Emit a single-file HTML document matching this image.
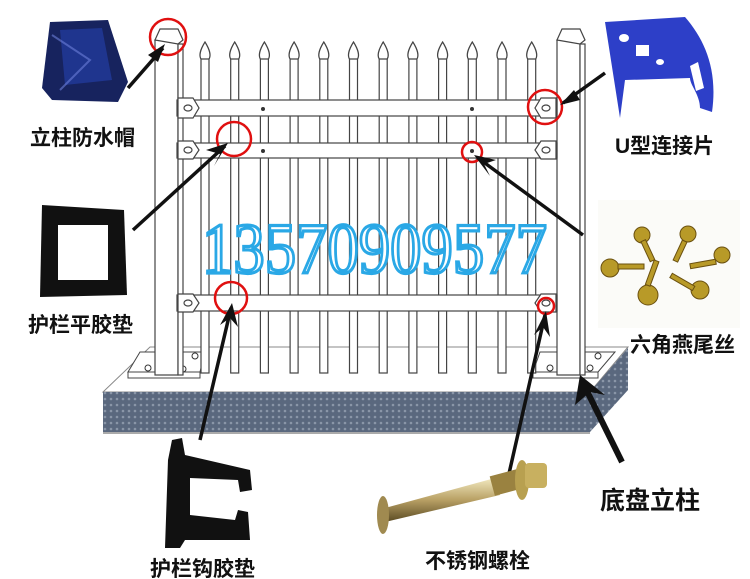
<!DOCTYPE html>
<html><head><meta charset="utf-8"><style>
html,body{margin:0;padding:0;background:#fff;width:750px;height:579px;overflow:hidden}
svg{display:block}
.lb{font-family:"Liberation Sans","Noto Sans CJK SC",sans-serif;font-size:21px;font-weight:bold;fill:#111}
</style></head><body>
<svg width="750" height="579" viewBox="0 0 750 579" xmlns="http://www.w3.org/2000/svg">
<defs>
<pattern id="dots" width="6" height="6" patternUnits="userSpaceOnUse">
<rect width="6" height="6" fill="#5a687e"/><circle cx="3" cy="3" r="1.3" fill="#8a96a8"/>
</pattern>
<linearGradient id="bolt" x1="0" y1="0" x2="0" y2="1"><stop offset="0" stop-color="#f2e9c0"/><stop offset="0.5" stop-color="#b8a064"/><stop offset="1" stop-color="#5a4a22"/></linearGradient>
</defs>
<polygon points="150,347 628,347 590,392 103,392" fill="#fff" stroke="#888" stroke-width="1"/>
<rect x="103" y="392" width="487" height="40" fill="url(#dots)"/>
<polygon points="590,392 628,348 628,390 590,432" fill="url(#dots)"/>
<line x1="103" y1="433" x2="590" y2="433" stroke="#aaa" stroke-width="2"/>
<polygon points="140,352 205,352 200,372 128,372" fill="#fff" stroke="#444"/>
<polygon points="128,372 200,372 200,378 128,378" fill="#fff" stroke="#444"/>
<polygon points="540,352 615,352 598,372 533,372" fill="#fff" stroke="#444"/>
<polygon points="533,372 598,372 598,378 533,378" fill="#fff" stroke="#444"/>
<g fill="#fff" stroke="#333"><circle cx="148" cy="368" r="3"/><circle cx="183" cy="369" r="3"/><circle cx="195" cy="356" r="3"/><circle cx="550" cy="368" r="3"/><circle cx="590" cy="368" r="3"/><circle cx="598" cy="356" r="3"/></g>
<g fill="#fff" stroke="#444" stroke-width="1.2">
<rect x="201" y="58" width="8" height="315"/><path d="M205,42 C200,50 199,56 201,59 L209,59 C211,56 210,50 205,42Z"/>
<rect x="230.7" y="58" width="8" height="315"/><path d="M234.7,42 C229.7,50 228.7,56 230.7,59 L238.7,59 C240.7,56 239.7,50 234.7,42Z"/>
<rect x="260.4" y="58" width="8" height="315"/><path d="M264.4,42 C259.4,50 258.4,56 260.4,59 L268.4,59 C270.4,56 269.4,50 264.4,42Z"/>
<rect x="290.1" y="58" width="8" height="315"/><path d="M294.1,42 C289.1,50 288.1,56 290.1,59 L298.1,59 C300.1,56 299.1,50 294.1,42Z"/>
<rect x="319.8" y="58" width="8" height="315"/><path d="M323.8,42 C318.8,50 317.8,56 319.8,59 L327.8,59 C329.8,56 328.8,50 323.8,42Z"/>
<rect x="349.5" y="58" width="8" height="315"/><path d="M353.5,42 C348.5,50 347.5,56 349.5,59 L357.5,59 C359.5,56 358.5,50 353.5,42Z"/>
<rect x="379.2" y="58" width="8" height="315"/><path d="M383.2,42 C378.2,50 377.2,56 379.2,59 L387.2,59 C389.2,56 388.2,50 383.2,42Z"/>
<rect x="408.9" y="58" width="8" height="315"/><path d="M412.9,42 C407.9,50 406.9,56 408.9,59 L416.9,59 C418.9,56 417.9,50 412.9,42Z"/>
<rect x="438.6" y="58" width="8" height="315"/><path d="M442.6,42 C437.6,50 436.6,56 438.6,59 L446.6,59 C448.6,56 447.6,50 442.6,42Z"/>
<rect x="468.3" y="58" width="8" height="315"/><path d="M472.3,42 C467.3,50 466.3,56 468.3,59 L476.3,59 C478.3,56 477.3,50 472.3,42Z"/>
<rect x="498" y="58" width="8" height="315"/><path d="M502,42 C497,50 496,56 498,59 L506,59 C508,56 507,50 502,42Z"/>
<rect x="527.7" y="58" width="8" height="315"/><path d="M531.7,42 C526.7,50 525.7,56 527.7,59 L535.7,59 C537.7,56 536.7,50 531.7,42Z"/>
</g>
<g fill="#fff" stroke="#444" stroke-width="1.2">
<rect x="155" y="40" width="23" height="335"/><rect x="178" y="44" width="5" height="331"/>
<polygon points="155,40 160,29 178,29 183,40 178,44"/>
<rect x="557" y="40" width="23" height="335"/><rect x="580" y="44" width="5" height="331"/>
<polygon points="557,40 562,29 580,29 585,40 580,44"/>
</g>
<g fill="#fff" stroke="#444" stroke-width="1.2">
<rect x="177" y="100" width="380" height="16"/>
<rect x="177" y="143" width="380" height="15"/>
<rect x="177" y="295" width="380" height="16"/>
<path d="M178,98 h15 l6,10 l-6,10 h-15z"/><path d="M556,98 h-15 l-6,10 l6,10 h15z"/>
<path d="M178,141 h15 l6,9 l-6,9 h-15z"/><path d="M556,141 h-15 l-6,9 l6,9 h15z"/>
<path d="M178,294 h15 l6,9 l-6,9 h-15z"/><path d="M556,294 h-15 l-6,9 l6,9 h15z"/>
<ellipse cx="188" cy="108" rx="4" ry="3"/><ellipse cx="546" cy="108" rx="4" ry="3"/>
<ellipse cx="188" cy="150" rx="4" ry="3"/><ellipse cx="546" cy="150" rx="4" ry="3"/>
<ellipse cx="188" cy="303" rx="4" ry="3"/><ellipse cx="546" cy="303" rx="4" ry="3"/>
</g>
<g fill="#333"><circle cx="263" cy="109" r="2"/><circle cx="472" cy="109" r="2"/><circle cx="263" cy="151" r="2"/><circle cx="472" cy="151" r="2"/></g>
<text x="202" y="273" textLength="345" lengthAdjust="spacingAndGlyphs" font-family="Liberation Serif,serif" font-size="72" fill="#fff" stroke="#2aa8e6" stroke-width="3.2">13570909577</text>
<g fill="none" stroke="#e01010" stroke-width="2.5">
<circle cx="168" cy="37" r="18"/><circle cx="545" cy="107" r="17"/><circle cx="234" cy="139" r="17"/>
<circle cx="472" cy="152" r="10"/><circle cx="231" cy="298" r="16"/><circle cx="546" cy="306" r="8"/>
</g>
<g stroke="#111" stroke-width="3.5" fill="none">
<line x1="128" y1="88" x2="163" y2="48"/>
<line x1="605" y1="73" x2="563" y2="103"/>
<line x1="133" y1="230" x2="225" y2="146"/>
<line x1="583" y1="235" x2="478" y2="158"/>
<line x1="200" y1="440" x2="231" y2="308"/>
<line x1="508" y1="478" x2="545" y2="315"/>
<line x1="622" y1="462" x2="583" y2="383" stroke-width="6"/>
</g>
<g fill="#111">
<polygon points="165,44 148,55 158,62"/>
<polygon points="560,105 574,90 580,100"/>
<polygon points="228,143 206,150 220,154 214,166"/>
<polygon points="474,155 496,160 484,164 490,176"/>
<polygon points="232,303 220,325 230,318 238,327"/>
<polygon points="546,311 534,335 543,327 550,337"/>
<polygon points="580,375 575,405 590,392 605,395"/>
</g>
<path d="M50,22 L108,20 L128,82 L118,102 L52,100 L42,88 Z" fill="#17235e"/>
<path d="M60,30 L102,28 L112,80 L65,85 Z" fill="#223a9a" opacity="0.8"/>
<path d="M52,35 L90,60 L60,90" stroke="#6c7fd8" stroke-width="2" fill="none" opacity="0.6"/>
<path d="M42,205 L124,210 L127,295 L40,297 Z" fill="#111"/>
<rect x="58" y="225" width="50" height="55" fill="#fff"/>
<path d="M605,22 L685,17 C705,40 718,70 712,112 L700,108 C700,95 690,85 690,78 L625,80 L620,118 Z" fill="#2d3fc8"/>
<ellipse cx="624" cy="38" rx="5" ry="4" fill="#fff"/><rect x="636" y="45" width="13" height="11" fill="#fff"/><ellipse cx="660" cy="62" rx="4" ry="3" fill="#fff"/>
<polygon points="690,66 698,62 704,88 696,91" fill="#fff"/>
<rect x="598" y="200" width="142" height="128" fill="#fbfbf8"/>
<g fill="#b89a28" stroke="#6a5010" stroke-width="1">
<circle cx="642" cy="235" r="8"/><rect x="645" y="240" width="5" height="22" transform="rotate(-25 647 250)"/>
<circle cx="688" cy="234" r="8"/><rect x="678" y="240" width="5" height="22" transform="rotate(25 680 250)"/>
<circle cx="722" cy="255" r="8"/><rect x="690" y="262" width="26" height="5" transform="rotate(-10 700 264)"/>
<circle cx="610" cy="268" r="9"/><rect x="618" y="264" width="26" height="5"/>
<circle cx="648" cy="295" r="10"/><rect x="650" y="260" width="5" height="26" transform="rotate(20 652 272)"/>
<circle cx="700" cy="290" r="9"/><rect x="670" y="278" width="26" height="5" transform="rotate(30 680 280)"/>
</g>
<path d="M172,440 L182,438 L185,455 L250,470 L252,490 L240,492 L238,480 L190,478 L190,515 L235,520 L238,510 L248,512 L250,540 L185,540 L180,548 L165,548 L168,460 Z" fill="#111"/>
<polygon points="385,508 495,478 500,495 385,522" fill="url(#bolt)"/>
<ellipse cx="383" cy="515" rx="6" ry="19" fill="#a08a50"/>
<rect x="492" y="474" width="30" height="20" fill="#9a8240" transform="rotate(-15 500 484)"/>
<ellipse cx="522" cy="480" rx="7" ry="20" fill="#b8a050"/>
<rect x="525" y="463" width="22" height="25" rx="4" fill="#c8b060"/>
<text class="lb" x="30" y="145">立柱防水帽</text>
<text class="lb" x="615" y="153">U型连接片</text>
<text class="lb" x="28" y="332">护栏平胶垫</text>
<text class="lb" x="630" y="352">六角燕尾丝</text>
<text class="lb" x="600" y="509" style="font-size:25px">底盘立柱</text>
<text class="lb" x="425" y="568">不锈钢螺栓</text>
<text class="lb" x="150" y="576">护栏钩胶垫</text>
</svg>
</body></html>
